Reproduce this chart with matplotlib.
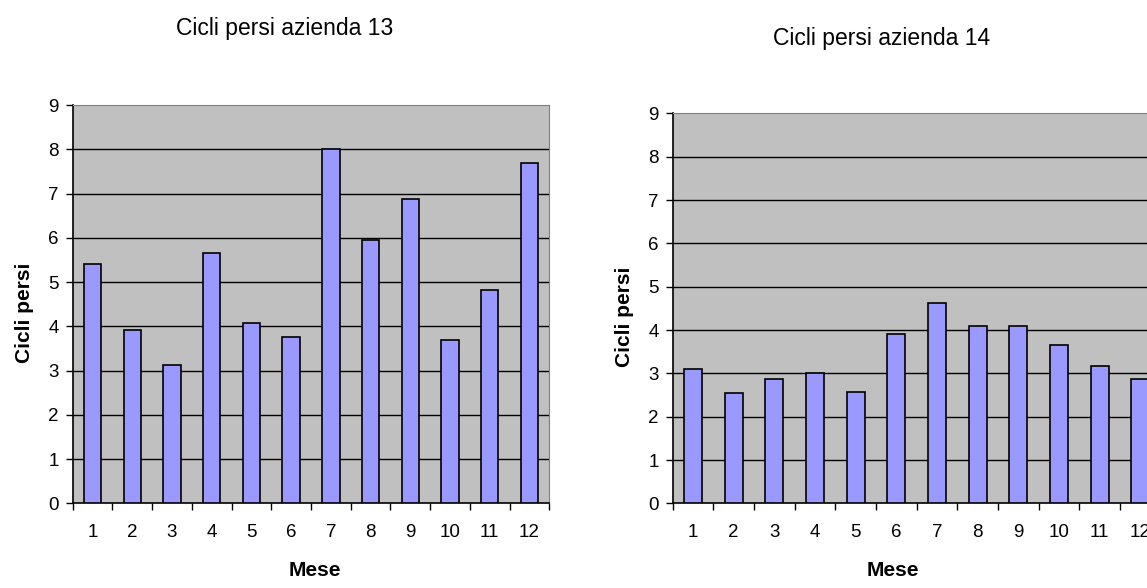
import matplotlib
matplotlib.use('Agg')
import matplotlib.pyplot as plt
import numpy as np

plt.rcParams['font.family'] = ['Liberation Sans', 'DejaVu Sans']

mesi = [str(m) for m in range(1, 13)]
azienda13 = [5.42, 3.93, 3.12, 5.65, 4.07, 3.75, 8.0, 5.96, 6.87, 3.70, 4.83, 7.70]
azienda14 = [3.09, 2.54, 2.86, 3.0, 2.58, 3.92, 4.62, 4.10, 4.10, 3.65, 3.18, 2.86]

fig = plt.figure(figsize=(11.47, 5.88), dpi=100)

# posizioni degli assi in frazioni della figura
ax1 = fig.add_axes([0.0634, 0.144, 0.4155, 0.677])
ax2 = fig.add_axes([0.5865, 0.144, 0.4255, 0.663])


def disegna(ax, valori):
    x = np.arange(len(valori))
    ax.set_facecolor('#C0C0C0')
    ax.bar(x, valori, width=0.44, color='#9999FF', edgecolor='black', linewidth=1.2, zorder=3)
    ax.set_xlim(-0.5, len(valori) - 0.5)
    ax.set_ylim(0, 9)
    ax.set_yticks(range(0, 10))
    for y in range(1, 9):
        ax.axhline(y, color='black', linewidth=1, zorder=1)
    # tacche ai bordi delle categorie, etichette al centro
    ax.set_xticks(np.arange(-0.5, len(valori) + 0.5, 1))
    ax.set_xticklabels([])
    ax.set_xticks(x, minor=True)
    ax.set_xticklabels(mesi, minor=True, fontsize=13.5)
    ax.tick_params(axis='x', which='minor', length=0, pad=15)
    ax.tick_params(axis='x', which='major', length=5, direction='out', width=1)
    ax.tick_params(axis='y', length=5, direction='out', width=1, labelsize=13.5, pad=5)
    ax.spines['top'].set_color('#808080')
    ax.spines['right'].set_color('#808080')
    ax.spines['left'].set_linewidth(1.2)
    ax.spines['bottom'].set_linewidth(1.2)


disegna(ax1, azienda13)
disegna(ax2, azienda14)

fig.text(285 / 1147, 1 - 29 / 588, 'Cicli persi azienda 13', ha='center', va='center', fontsize=16.5)
fig.text(882 / 1147, 1 - 39 / 588, 'Cicli persi azienda 14', ha='center', va='center', fontsize=16.5)

fig.text(25 / 1147, 1 - 313 / 588, 'Cicli persi', rotation=90, ha='center', va='center',
         fontsize=15, fontweight='bold')
fig.text(624 / 1147, 1 - 317 / 588, 'Cicli persi', rotation=90, ha='center', va='center',
         fontsize=15, fontweight='bold')
fig.text(315 / 1147, 1 - 570 / 588, 'Mese', ha='center', va='center', fontsize=15, fontweight='bold')
fig.text(893 / 1147, 1 - 570 / 588, 'Mese', ha='center', va='center', fontsize=15, fontweight='bold')

fig.savefig('out.png', dpi=100)
plt.close()
